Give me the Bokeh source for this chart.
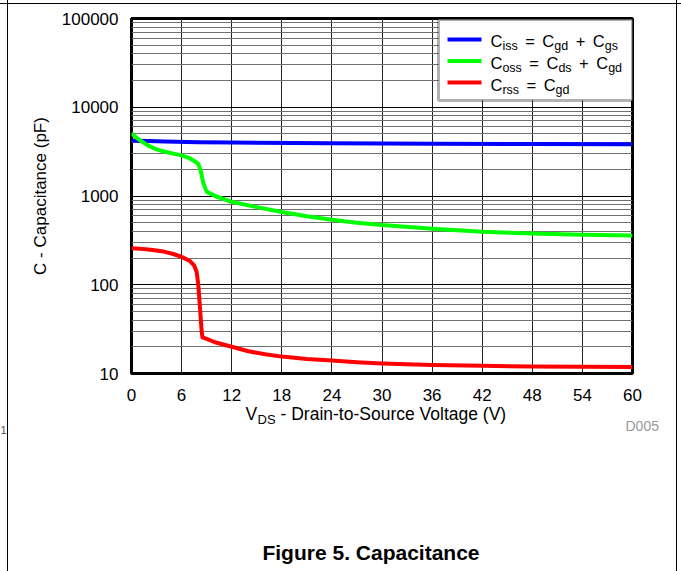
from bokeh.plotting import figure
from bokeh.layouts import column, row
from bokeh.models import Range1d, FixedTicker, PrintfTickFormatter, Label, BoxAnnotation
from bokeh.embed import file_html
from bokeh.resources import INLINE

# ---------------- data ----------------
vds_ticks = [0, 6, 12, 18, 24, 30, 36, 42, 48, 54, 60]
cap_ticks = [10, 100, 1000, 10000, 100000]

ciss_v = [0, 4, 8, 12, 24, 36, 48, 60]
ciss_c = [4220, 4120, 4040, 4000, 3930, 3880, 3850, 3820]

coss_v = [0, 0.5, 1, 2, 3, 4, 5, 6, 7, 7.6, 8, 8.3, 8.6, 9, 10, 12, 15, 18, 21, 24, 27, 30, 36, 42, 48, 54, 60]
coss_c = [5100, 4600, 4250, 3700, 3350, 3150, 3000, 2870, 2650, 2450, 2300, 1900, 1400, 1120, 1000, 860, 750, 660, 590, 540, 500, 470, 428, 395, 378, 366, 358]

crss_v = [0, 1, 2, 3, 4, 5, 6, 7, 7.5, 7.8, 8.0, 8.2, 8.4, 8.5, 9, 10, 12, 14, 16, 18, 21, 24, 27, 30, 36, 42, 48, 54, 60]
crss_c = [258, 255, 250, 243, 235, 222, 206, 185, 165, 140, 100, 55, 30, 25.5, 24.5, 22.5, 20, 17.8, 16.5, 15.5, 14.6, 14.0, 13.4, 13.0, 12.5, 12.2, 12.0, 11.9, 11.8]

legend_rows = [
    ["C", "_iss", " ", "=", " ", "C", "_gd", " ", "+", " ", "C", "_gs"],
    ["C", "_oss", " ", "=", " ", "C", "_ds", " ", "+", " ", "C", "_gd"],
    ["C", "_rss", " ", "=", " ", "C", "_gd"],
]
legend_colors = ["#0000FF", "#00FF00", "#FF0000"]

FONT = "Liberation Sans"
PAGE_W, PAGE_H = 681, 571
SPLIT = 404  # page y where the chart figure ends and the caption figure starts


class Panel:
    """Places annotations on a figure using page pixel coordinates."""

    def __init__(self, fig, frame_left, frame_bottom):
        self.fig, self.fl, self.fb = fig, frame_left, frame_bottom

    def lab(self, px, baseline, text, size, **kw):
        # anchor by the middle of the line box (about 0.35 em above the baseline)
        opts = dict(text_font=FONT, text_font_size=f"{size}px", text_color="black",
                    text_baseline="middle", text_align="left")
        opts.update(kw)
        py = baseline - 0.35 * size
        self.fig.add_layout(Label(x=px - self.fl, y=self.fb - py, x_units="screen",
                                  y_units="screen", text=text, **opts))

    def box(self, l, r, t, b, fill, line=None, lw=1):
        self.fig.add_layout(BoxAnnotation(
            left=l - self.fl, right=r - self.fl, top=self.fb - t, bottom=self.fb - b,
            left_units="screen", right_units="screen", top_units="screen", bottom_units="screen",
            fill_color=fill, fill_alpha=1, line_color=line, line_width=lw))


# ---------------- main chart ----------------
p = figure(width=PAGE_W, height=SPLIT, output_backend="svg", toolbar_location=None,
           x_range=Range1d(0, 60), y_range=Range1d(10, 100000), y_axis_type="log",
           min_border_left=131, min_border_right=PAGE_W - 632,
           min_border_top=18, min_border_bottom=SPLIT - 373)
p.background_fill_color = "white"
p.border_fill_color = None
p.outline_line_color = "black"
p.outline_line_width = 3

minor = [m * d for d in cap_ticks[:-1] for m in range(2, 10)]
xt = FixedTicker(ticks=vds_ticks)
yt = FixedTicker(ticks=cap_ticks, minor_ticks=minor)
p.xaxis.ticker = xt
p.yaxis.ticker = yt
p.xgrid.ticker = xt
p.ygrid.ticker = yt
p.yaxis.formatter = PrintfTickFormatter(format="%d")

for ax in (p.xaxis, p.yaxis):
    ax.axis_line_color = None
    ax.major_tick_line_color = None
    ax.minor_tick_line_color = None
    ax.major_label_text_font = FONT
    ax.major_label_text_font_size = "17px"
    ax.major_label_text_color = "black"
p.xaxis.major_label_standoff = 9
p.yaxis.major_label_standoff = 7

p.yaxis.axis_label = "C - Capacitance (pF)"
p.yaxis.axis_label_text_font = FONT
p.yaxis.axis_label_text_font_size = "17px"
p.yaxis.axis_label_text_font_style = "normal"
p.yaxis.axis_label_text_color = "black"
p.yaxis.axis_label_standoff = 9

p.xgrid.grid_line_color = "#222222"
p.xgrid.grid_line_width = 1
p.ygrid.grid_line_color = "black"
p.ygrid.grid_line_width = 1
p.ygrid.minor_grid_line_color = "#707070"
p.ygrid.minor_grid_line_width = 1

p.line(ciss_v, ciss_c, line_color=legend_colors[0], line_width=4, line_join="round")
p.line(coss_v, coss_c, line_color=legend_colors[1], line_width=4, line_join="round")
p.line(crss_v, crss_c, line_color=legend_colors[2], line_width=4, line_join="round")

M = Panel(p, 131, 373)

# legend
M.box(438, 632, 19, 100, "white", "black", 3)
EM = {"C": .722, "i": .222, "s": .5, "o": .556, "r": .333, "g": .556, "d": .556,
      "=": .584, "+": .584}
MAIN, SUB, GAP = 16.5, 12.5, 7.5
for k, (pieces, col) in enumerate(zip(legend_rows, legend_colors)):
    swatch_y = 39 + k * 21.5
    base = 46 + k * 22
    M.box(447, 481, swatch_y - 2, swatch_y + 2, col)
    x = 490
    for piece in pieces:
        if piece == " ":
            x += GAP
            continue
        if piece.startswith("_"):
            txt, size, b = piece[1:], SUB, base + 3.5
        else:
            txt, size, b = piece, MAIN, base
        M.lab(x, b, txt, size)
        x += sum(EM[c] for c in txt) * size

# ---------------- bottom area: x title, id, caption ----------------
bottom = figure(width=PAGE_W, height=PAGE_H - SPLIT, output_backend="svg", toolbar_location=None,
                x_axis_location=None, y_axis_location=None,
                min_border=0, min_border_left=0, min_border_right=0,
                min_border_top=0, min_border_bottom=0,
                x_range=Range1d(0, 1), y_range=Range1d(0, 1))
bottom.outline_line_color = None
bottom.background_fill_color = None
bottom.border_fill_color = None
bottom.grid.visible = False

B = Panel(bottom, 0, PAGE_H)
B.lab(245, 420, "V", 17.5)
B.lab(257, 424, "DS", 13)
B.lab(280, 420, "- Drain-to-Source Voltage (V)", 17.5)
B.lab(625, 430, "D005", 14, text_color="#999999")
B.lab(0, 433, "1", 11, text_color="#555555")
B.lab(370.5, 559.5, "Figure 5. Capacitance", 21, text_align="center",
      text_font_style="bold")

# thin page-frame rules of the datasheet page, drawn behind the figures
frame_rules = ("linear-gradient(#000,#000) 7px 0/1px 100% no-repeat, "
               "linear-gradient(#000,#000) 676px 0/1px 100% no-repeat, "
               "linear-gradient(#000,#000) 0 3px/100% 1px no-repeat, #fff")

# the caption figure sits in its own row so that its frame is not aligned to the chart's
layout = column(p, row(bottom), styles={"background": frame_rules})
open("out.html", "w").write(file_html(layout, INLINE))
